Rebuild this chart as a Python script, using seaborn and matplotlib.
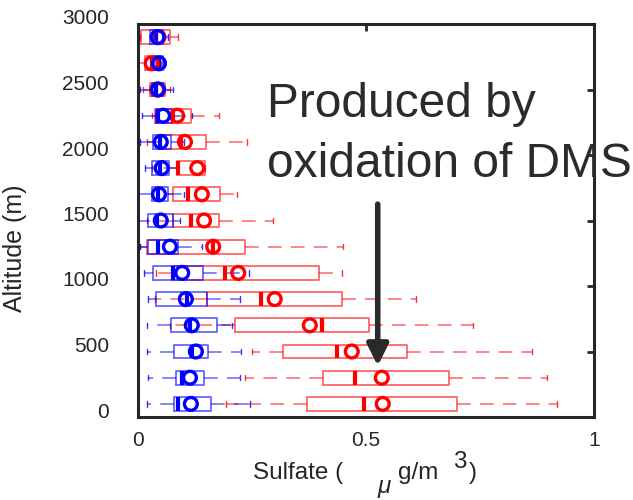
import matplotlib
matplotlib.use("Agg")
import matplotlib.pyplot as plt
import matplotlib.transforms as mtransforms
import seaborn as sns
import numpy as np

# altitude bins (m), bottom to top
altitude = [100, 300, 500, 700, 900, 1100, 1300, 1500, 1700, 1900, 2100, 2300, 2500, 2700, 2900]

# blue series (sulfate, ug/m3)
blue_lo = [0.020, 0.022, 0.020, 0.020, 0.022, 0.013, 0.004, 0.000, 0.000, 0.015, 0.005, 0.009, 0.005, 0.030, 0.030]
blue_q1 = [0.079, 0.083, 0.079, 0.072, 0.040, 0.033, 0.022, 0.022, 0.030, 0.030, 0.033, 0.040, 0.030, 0.035, 0.027]
blue_med = [0.088, 0.096, 0.118, 0.114, 0.107, 0.077, 0.044, 0.042, 0.044, 0.048, 0.048, 0.044, 0.040, 0.045, 0.040]
blue_q3 = [0.160, 0.145, 0.153, 0.173, 0.151, 0.143, 0.088, 0.077, 0.066, 0.068, 0.072, 0.075, 0.055, 0.055, 0.055]
blue_hi = [0.246, 0.224, 0.225, 0.206, 0.224, 0.244, 0.140, 0.092, 0.100, 0.088, 0.100, 0.118, 0.076, 0.060, 0.065]
blue_mean = [0.116, 0.114, 0.127, 0.118, 0.105, 0.097, 0.070, 0.050, 0.046, 0.052, 0.050, 0.055, 0.044, 0.046, 0.043]

# red series
red_lo = [0.193, 0.235, 0.250, 0.070, 0.037, 0.040, 0.005, 0.020, 0.060, 0.030, 0.020, 0.030, 0.010, 0.000, 0.005]
red_q1 = [0.371, 0.406, 0.318, 0.213, 0.151, 0.075, 0.020, 0.077, 0.077, 0.086, 0.045, 0.037, 0.026, 0.015, 0.007]
red_med = [0.496, 0.476, 0.436, 0.404, 0.270, 0.190, 0.165, 0.116, 0.110, 0.088, 0.095, 0.077, 0.040, 0.030, 0.040]
red_q3 = [0.700, 0.682, 0.590, 0.507, 0.447, 0.397, 0.235, 0.178, 0.180, 0.147, 0.150, 0.116, 0.060, 0.040, 0.070]
red_hi = [0.919, 0.897, 0.864, 0.735, 0.610, 0.447, 0.450, 0.296, 0.217, 0.148, 0.240, 0.178, 0.070, 0.050, 0.088]
red_mean = [0.537, 0.535, 0.469, 0.377, 0.300, 0.220, 0.165, 0.145, 0.140, 0.130, 0.103, 0.086, 0.042, 0.030, 0.045]

sns.set_theme(style='white')
plt.rcParams['font.family'] = ['Liberation Sans', 'DejaVu Sans']

fig = plt.figure(figsize=(6.33, 5), dpi=100)
ax = fig.add_axes([0.218, 0.166, 0.72, 0.786])


def make_stats(lo, q1, med, q3, hi):
    return [dict(whislo=a, q1=b, med=c, q3=d, whishi=e, fliers=[])
            for a, b, c, d, e in zip(lo, q1, med, q3, hi)]


dash = (0, (9, 6))
for color, stats in [('red', make_stats(red_lo, red_q1, red_med, red_q3, red_hi)),
                     ('blue', make_stats(blue_lo, blue_q1, blue_med, blue_q3, blue_hi))]:
    ax.bxp(stats, positions=altitude, widths=105, capwidths=40,
           orientation='horizontal', showfliers=False, manage_ticks=False,
           boxprops=dict(color=color, alpha=0.6, lw=1.3),
           whiskerprops=dict(color=color, alpha=0.6, lw=1.1, linestyle=dash),
           capprops=dict(color=color, alpha=0.8, lw=1.0),
           medianprops=dict(color=color, lw=3.0, solid_capstyle='butt'))

# mean values as open circles
sns.scatterplot(x=red_mean, y=altitude, ax=ax, marker='o', s=85,
                facecolors='none', edgecolor='red', linewidth=2.4, zorder=5)
sns.scatterplot(x=blue_mean, y=altitude, ax=ax, marker='o', s=85,
                facecolors='none', edgecolor='blue', linewidth=2.4, zorder=6)

ax.set_xlim(0, 1)
ax.set_ylim(0, 3000)
ax.set_xticks([0, 0.5, 1])
ax.set_xticklabels(['0', '0.5', '1'])
ax.set_yticks([0, 500, 1000, 1500, 2000, 2500, 3000])
ax.tick_params(axis='both', direction='in', top=True, right=True,
               length=5, width=2, colors='#262626', labelsize=15)
ax.tick_params(axis='y', pad=21)
ax.tick_params(axis='x', pad=10)
for s in ax.spines.values():
    s.set_linewidth(2.2)
    s.set_color('#262626')

# y tick labels sit a little above their ticks
offset = mtransforms.ScaledTranslation(0, 0.07, fig.dpi_scale_trans)
for lab in ax.get_yticklabels():
    lab.set_transform(lab.get_transform() + offset)

ax.set_ylabel('Altitude (m)', fontsize=18, color='#262626')
ax.yaxis.set_label_coords(-0.243, 0.43)

# x label, pieced together the way the original lays it out
lab_kw = dict(fontsize=17.5, color='#262626', va='baseline')
fig.text(0.400, 0.042, 'Sulfate (', **lab_kw)
fig.text(0.597, 0.014, '\u03bc', style='italic', **lab_kw)
fig.text(0.629, 0.042, 'g/m', **lab_kw)
fig.text(0.716, 0.064, '3', **lab_kw)
fig.text(0.741, 0.042, ')', **lab_kw)

fig.text(0.422, 0.766, 'Produced by', fontsize=34.5, color='#2b2b2b', va='baseline')
fig.text(0.422, 0.646, 'oxidation of DMS', fontsize=34.5, color='#2b2b2b', va='baseline')

ax.annotate('', xy=(0.526, 390), xytext=(0.526, 1625),
            arrowprops=dict(arrowstyle='-|>', color='#2a2a2a', lw=4,
                            mutation_scale=32, shrinkA=0, shrinkB=0))

fig.savefig('out.png', dpi=100)
